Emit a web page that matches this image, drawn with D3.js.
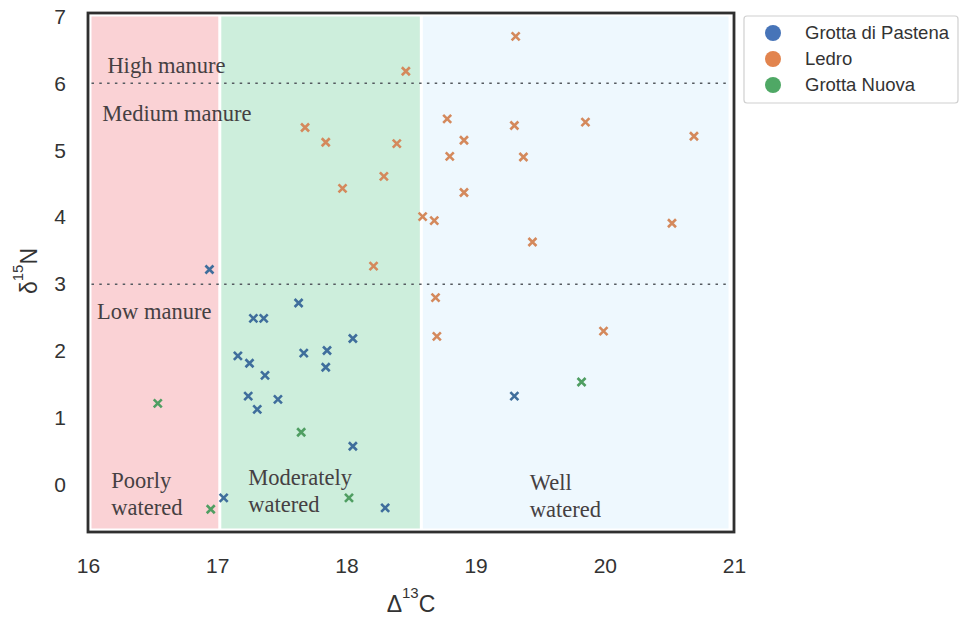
<!DOCTYPE html>
<html>
<head>
<meta charset="utf-8">
<script src="https://cdn.jsdelivr.net/npm/d3@7"></script>
<style>
  html, body { margin: 0; padding: 0; background: #fff; }
  svg { display: block; }
</style>
</head>
<body>
<svg id="chart" width="964" height="620"></svg>
<script>
// ---------------- data ----------------
const seriesNames = ["Grotta di Pastena", "Ledro", "Grotta Nuova"];
const seriesColors = ["#3f6e9c", "#d4895c", "#4f9e62"];
const legendColors = ["#4774b8", "#e2844e", "#4fa865"];

const pastenaX = [16.94, 17.63, 17.28, 17.36, 18.05, 17.16, 17.25, 17.67, 17.85, 17.84, 17.37, 17.24, 17.47, 17.31, 18.05, 17.05, 18.30, 19.30];
const pastenaY = [3.22, 2.72, 2.49, 2.49, 2.19, 1.93, 1.82, 1.97, 2.01, 1.76, 1.64, 1.33, 1.28, 1.13, 0.58, -0.19, -0.34, 1.33];

const ledroX = [19.31, 18.46, 17.68, 17.84, 18.39, 18.29, 17.97, 18.21, 18.78, 19.30, 19.85, 20.69, 18.91, 18.80, 19.37, 18.91, 18.59, 18.68, 19.44, 20.52, 18.69, 18.70, 19.99];
const ledroY = [6.70, 6.18, 5.34, 5.12, 5.10, 4.61, 4.43, 3.27, 5.47, 5.37, 5.42, 5.21, 5.15, 4.91, 4.90, 4.37, 4.01, 3.95, 3.63, 3.91, 2.80, 2.22, 2.30];

const nuovaX = [16.54, 16.95, 17.65, 18.02, 19.82];
const nuovaY = [1.22, -0.36, 0.79, -0.19, 1.54];

const xTicks = [16, 17, 18, 19, 20, 21];
const yTicks = [0, 1, 2, 3, 4, 5, 6, 7];

const zoneBounds = [16, 17.02, 18.58, 21];
const zoneColors = ["#fad2d5", "#cdeedc", "#eef8fe"];
const manureLines = [6, 3];

const manureLabels = [
  { text: "High manure", x: 16.15, y: 6.15 },
  { text: "Medium manure", x: 16.11, y: 5.43 },
  { text: "Low manure", x: 16.07, y: 2.48 }
];
const waterLabels = [
  { lines: ["Poorly", "watered"], x: 16.18, y: -0.05 },
  { lines: ["Moderately", "watered"], x: 17.24, y: 0.0 },
  { lines: ["Well", "watered"], x: 19.42, y: -0.08 }
];

// ---------------- layout ----------------
const svg = d3.select("#chart");
const mLeft = 88, mRight = 734, mTop = 13, mBottom = 532;

const x = d3.scaleLinear().domain([16, 21]).range([mLeft, mRight]);
const y = d3.scaleLinear().domain([-0.7, 7.05]).range([mBottom, mTop]);

const inset = 3.5;

// zones
const zones = svg.append("g");
for (let i = 0; i < zoneColors.length; i++) {
  const x0 = x(zoneBounds[i]) + (i === 0 ? inset : 1.5);
  const x1 = x(zoneBounds[i + 1]) - (i === zoneColors.length - 1 ? inset + 2 : 1.5);
  zones.append("rect")
    .attr("x", x0)
    .attr("y", mTop + inset)
    .attr("width", x1 - x0)
    .attr("height", mBottom - mTop - 2 * inset)
    .attr("fill", zoneColors[i]);
}

// dotted manure lines
svg.append("g").selectAll("line").data(manureLines).join("line")
  .attr("x1", mLeft + inset)
  .attr("x2", mRight - inset - 4)
  .attr("y1", d => y(d))
  .attr("y2", d => y(d))
  .attr("stroke", "#555a60")
  .attr("stroke-width", 1.6)
  .attr("stroke-dasharray", "2.5,5.3");

// frame
svg.append("rect")
  .attr("x", mLeft).attr("y", mTop)
  .attr("width", mRight - mLeft).attr("height", mBottom - mTop)
  .attr("fill", "none")
  .attr("stroke", "#2f2f2f")
  .attr("stroke-width", 2.8);

// region labels
const serif = "'Liberation Serif', 'DejaVu Serif', serif";
svg.append("g").selectAll("text").data(manureLabels).join("text")
  .attr("x", d => x(d.x))
  .attr("y", d => y(d.y))
  .attr("font-family", serif)
  .attr("font-size", 22.5)
  .attr("fill", "#454042")
  .text(d => d.text);

waterLabels.forEach(w => {
  const t = svg.append("text")
    .attr("x", x(w.x))
    .attr("y", y(w.y))
    .attr("font-family", serif)
    .attr("font-size", 22.5)
    .attr("fill", "#454042");
  w.lines.forEach((ln, i) => {
    t.append("tspan").attr("x", x(w.x)).attr("dy", i === 0 ? 0 : 27).text(ln);
  });
});

// markers
function drawSeries(xs, ys, color) {
  const pts = xs.map((v, i) => [v, ys[i]]);
  const s = 4;
  svg.append("g").selectAll("path").data(pts).join("path")
    .attr("d", d => {
      const px = x(d[0]), py = y(d[1]);
      return `M${px - s},${py - s}L${px + s},${py + s}M${px + s},${py - s}L${px - s},${py + s}`;
    })
    .attr("stroke", color)
    .attr("stroke-width", 2.6)
    .attr("fill", "none");
}
drawSeries(pastenaX, pastenaY, seriesColors[0]);
drawSeries(ledroX, ledroY, seriesColors[1]);
drawSeries(nuovaX, nuovaY, seriesColors[2]);

// axes
const sans = "'Liberation Sans', Arial, sans-serif";
const xAxis = svg.append("g")
  .attr("transform", `translate(0,${mBottom})`)
  .call(d3.axisBottom(x).tickValues(xTicks).tickFormat(d3.format("d")).tickSize(0).tickPadding(26));
xAxis.select(".domain").remove();
xAxis.selectAll("text").attr("font-family", sans).attr("font-size", 21).attr("fill", "#333");

const yAxis = svg.append("g")
  .attr("transform", `translate(${mLeft},0)`)
  .call(d3.axisLeft(y).tickValues(yTicks).tickFormat(d3.format("d")).tickSize(0).tickPadding(22));
yAxis.select(".domain").remove();
yAxis.selectAll("text").attr("font-family", sans).attr("font-size", 21).attr("fill", "#333");

// axis titles
const xt = svg.append("text")
  .attr("x", 411).attr("y", 612)
  .attr("text-anchor", "middle")
  .attr("font-family", sans).attr("font-size", 23).attr("fill", "#333");
xt.append("tspan").text("Δ");
xt.append("tspan").attr("font-size", 15).attr("dy", -14).text("13");
xt.append("tspan").attr("dy", 14).text("C");

const yt = svg.append("text")
  .attr("transform", "translate(37,271) rotate(-90)")
  .attr("text-anchor", "middle")
  .attr("font-family", sans).attr("font-size", 23).attr("fill", "#333");
yt.append("tspan").text("δ");
yt.append("tspan").attr("font-size", 15).attr("dy", -14).text("15");
yt.append("tspan").attr("dy", 14).text("N");

// legend
const lg = svg.append("g");
lg.append("rect")
  .attr("x", 744).attr("y", 16)
  .attr("width", 214).attr("height", 87)
  .attr("rx", 3)
  .attr("fill", "#fff")
  .attr("stroke", "#d0d0d0")
  .attr("stroke-width", 1.2);
seriesNames.forEach((name, i) => {
  const cy = 33 + i * 26;
  lg.append("circle").attr("cx", 773).attr("cy", cy).attr("r", 8).attr("fill", legendColors[i]);
  lg.append("text").attr("x", 805).attr("y", cy + 6)
    .attr("font-family", sans).attr("font-size", 18.5).attr("fill", "#333")
    .text(name);
});
</script>
</body>
</html>
